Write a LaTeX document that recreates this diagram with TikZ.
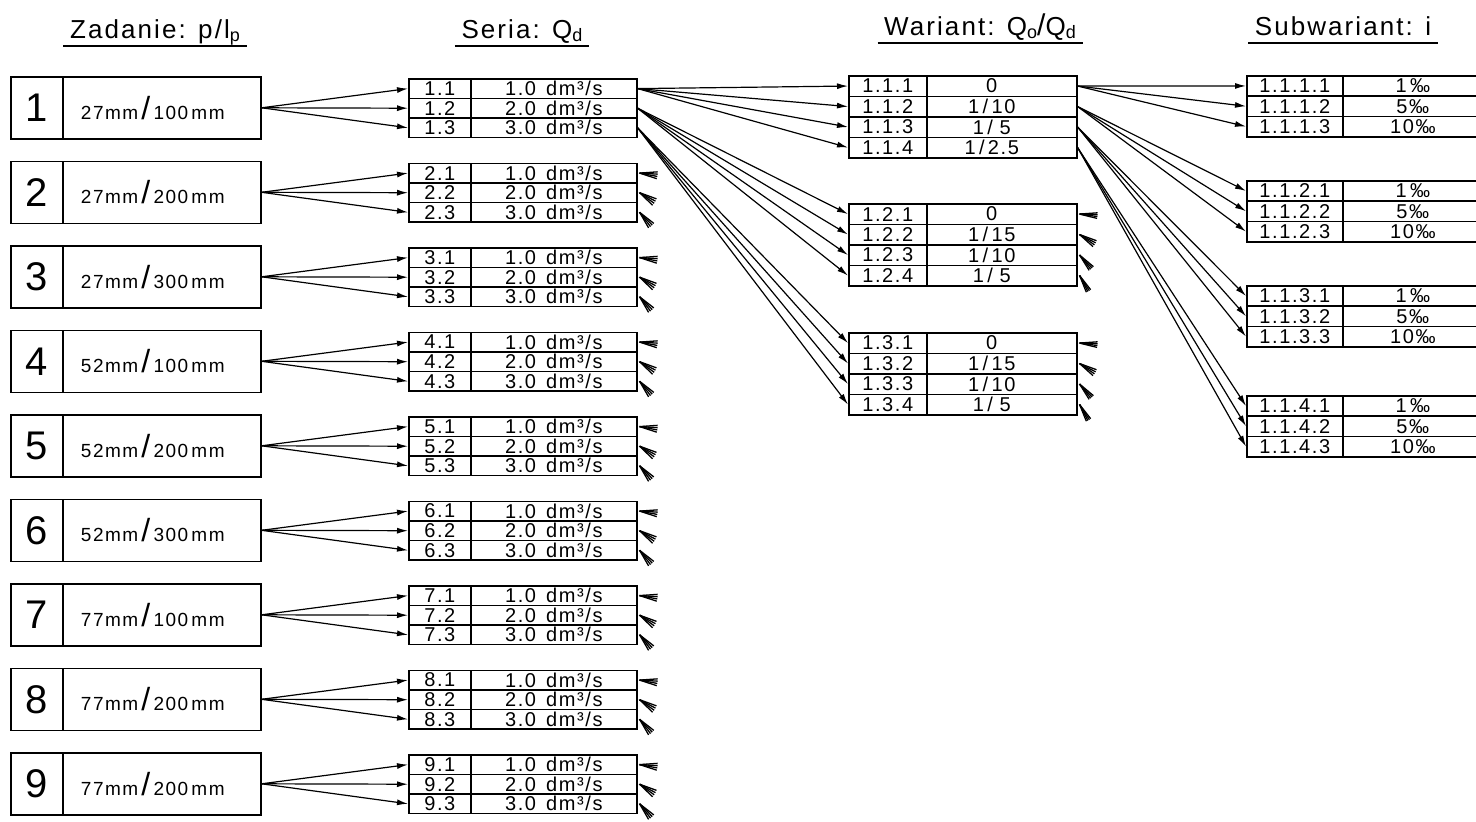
\documentclass[tikz,border=0pt]{standalone}
\usepackage{fontspec}
\setmainfont{Liberation Sans}[LetterSpace=8]
\usetikzlibrary{arrows.meta}
\newcommand\fanstub[4]{% node, start angle, end angle, number of lines-1
  \foreach \i in {0,...,#4}{\draw[stubline] ([xshift=2pt]#1.east) -- ++({#2+(#3-#2)*\i/#4}:18pt);}
  \fill ([xshift=1pt]#1.east) -- ++({#2+4}:7pt) -- ++({#3-4}:0pt) -- ([xshift=1pt]#1.east) ++({#3-4}:7pt) -- cycle;
}
\newcommand\lowsub[1]{\raisebox{-3pt}{\fontsize{18}{18}\selectfont #1}}
\begin{document}
\begin{tikzpicture}[x=1pt,y=-1pt,line width=1.4pt,
  cell/.style={draw,rectangle,inner sep=0pt,anchor=north west,line width=1.6pt},
  arr/.style={-{Latex[length=11pt,width=6pt]},line width=1.2pt},
  stubline/.style={line width=1.3pt},
  hd/.style={font=\fontsize{26}{28}\selectfont,anchor=base,inner sep=0pt},
  txt/.style={font=\fontsize{20}{20}\selectfont}]
\useasboundingbox (0,0) rectangle (1476,822);
\fill[white] (0,0) rectangle (1476,822);
% headers
\node[hd] (h1) at (155,38) {Zadanie: p/l\lowsub{p}};
\node[hd] (h2) at (522,38) {Seria: Q\lowsub{d}};
\node[hd] (h3) at (980,35) {Wariant: Q\lowsub{o}{\fontsize{30}{30}\selectfont/}Q\lowsub{d}};
\node[hd] (h4) at (1343,35) {Subwariant: i};
\foreach \h in {h1,h2,h3,h4}{
  \draw[line width=1.6pt] ([shift={(-6pt,-8pt)}]\h.base west) -- ([shift={(6pt,-8pt)}]\h.base east);}
% Zadanie and Seria
\foreach \k/\a/\b in {1/27/100,2/27/200,3/27/300,4/52/100,5/52/200,6/52/300,7/77/100,8/77/200,9/77/200}{
  \pgfmathsetmacro\zy{76+84.5*(\k-1)}
  \pgfmathsetmacro\sy{78+84.5*(\k-1)}
  \node[cell,minimum width=52pt,minimum height=62pt,font=\fontsize{40}{40}\selectfont] (zn\k) at (10,\zy) {\k};
  \node[cell,minimum width=198pt,minimum height=62pt,font=\fontsize{19}{20}\selectfont] (zt\k) at (62,\zy) {\a mm\,{\fontsize{32}{32}\selectfont/}\,\b\,mm\kern18pt};
  \foreach \r in {1,2,3}{
    \node[cell,minimum width=62pt,minimum height=19.6pt,txt] (sa\k\r) at (408,{\sy+19.6*(\r-1)}) {\k.\r};
    \node[cell,minimum width=166pt,minimum height=19.6pt,txt] (sb\k\r) at (470,{\sy+19.6*(\r-1)}) {\r.0\hspace{10pt}dm³/s};
    \draw[arr] (zt\k.east) -- (sa\k\r.west);
  }
}
% stubs on series 2..9
\foreach \k in {2,...,9}{
  \fanstub{sb\k1}{4}{-18}{3}
  \fanstub{sb\k2}{-20}{-44}{3}
  \fanstub{sb\k3}{-38}{-60}{3}
}
% Wariant
\foreach \g/\wy in {1/75,2/203,3/332}{
  \foreach \r in {1,2,3,4}{
    \node[cell,minimum width=78pt,minimum height=20.5pt,txt] (wa\g\r) at (848,{\wy+20.5*(\r-1)}) {1.\g.\r};
    \draw[arr] (sb1\g.east) -- (wa\g\r.west);
  }
}
\foreach \g/\r/\v in {1/1/{0},1/2/{1\,/\,10},1/3/{1\,/\,\,5},1/4/{1\,/\,2.5},
  2/1/{0},2/2/{1\,/\,15},2/3/{1\,/\,10},2/4/{1\,/\,\,5},
  3/1/{0},3/2/{1\,/\,15},3/3/{1\,/\,10},3/4/{1\,/\,\,5}}{
  \pgfmathsetmacro\wy{\g==1 ? 75 : (\g==2 ? 203 : 332)}
  \node[cell,minimum width=150pt,minimum height=20.5pt,txt] (wb\g\r) at (926,{\wy+20.5*(\r-1)}) {\v\kern20pt};
}
% stubs on wariant 1.2 and 1.3
\foreach \g in {2,3}{
  \fanstub{wb\g1}{4}{-14}{3}
  \fanstub{wb\g2}{-20}{-42}{3}
  \fanstub{wb\g3}{-40}{-58}{3}
  \fanstub{wb\g4}{-52}{-68}{3}
}
% Subwariant
\foreach \j/\uy in {1/75,2/180,3/285,4/395}{
  \foreach \r/\v in {1/{1\,‰},2/{5‰},3/{10‰}}{
    \node[cell,minimum width=96pt,minimum height=20.3pt,txt] (ua\j\r) at (1246,{\uy+20.3*(\r-1)}) {1.1.\j.\r};
    \node[cell,minimum width=140pt,minimum height=20.3pt,txt] (ub\j\r) at (1342,{\uy+20.3*(\r-1)}) {\v};
    \draw[arr] (wb1\j.east) -- (ua\j\r.west);
  }
}
\end{tikzpicture}
\end{document}
